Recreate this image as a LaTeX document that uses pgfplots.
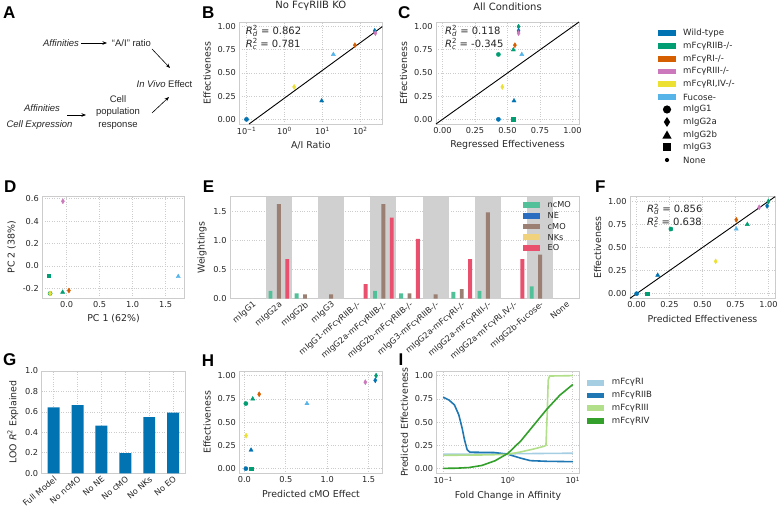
\documentclass[border=0pt]{standalone}
\usepackage{fontspec}
\setmainfont{DejaVu Sans}
\newfontfamily\afont{Liberation Sans}
\usepackage{pgfplots}
\pgfplotsset{compat=1.18}
\usetikzlibrary{arrows.meta}

\definecolor{cWT}{HTML}{0173B2}
\definecolor{cIIB}{HTML}{029E73}
\definecolor{cRI}{HTML}{D55E00}
\definecolor{cRIII}{HTML}{CC78BC}
\definecolor{cRIIV}{HTML}{ECE133}
\definecolor{cFuc}{HTML}{56B4E9}
\definecolor{cncMO}{RGB}{82,192,152}
\definecolor{cNE}{RGB}{42,108,192}
\definecolor{ccMO}{RGB}{155,127,114}
\definecolor{cNK}{RGB}{240,210,125}
\definecolor{cEO}{RGB}{232,80,110}
\definecolor{pI}{HTML}{A6CEE3}
\definecolor{pIIB}{HTML}{1F78B4}
\definecolor{pIII}{HTML}{B2DF8A}
\definecolor{pIV}{HTML}{33A02C}
\definecolor{txt}{HTML}{262626}
\definecolor{frm}{HTML}{CCCCCC}
\definecolor{band}{RGB}{208,208,208}

% narrow diamond like matplotlib's 'd'
\pgfdeclareplotmark{tdiamond}{%
  \pgfpathmoveto{\pgfqpoint{0pt}{\pgfplotmarksize}}%
  \pgfpathlineto{\pgfqpoint{0.62\pgfplotmarksize}{0pt}}%
  \pgfpathlineto{\pgfqpoint{0pt}{-\pgfplotmarksize}}%
  \pgfpathlineto{\pgfqpoint{-0.62\pgfplotmarksize}{0pt}}%
  \pgfpathclose
  \pgfusepathqfillstroke}

\newcommand{\Rsq}[2]{\textit{R}\rlap{\textsuperscript{2}}\textsubscript{\textit{#1}} = #2}
\newcommand{\tfont}{\fontsize{8.2}{9.5}\selectfont}
\newcommand{\lfont}{\fontsize{8.6}{10}\selectfont}

% legend row: colour patch + label (x0 = patch left, y = row centre)
\newcommand{\patchrow}[5]{%
  \fill[#1] (#2pt,-#3pt+2.9pt) rectangle (#2pt+17.5pt,-#3pt-2.9pt);
  \node[anchor=west, inner sep=0pt, text=txt, font=#5] at (#2pt+25pt,-#3pt) {#4};}

\pgfplotsset{
  panel/.style={
    scale only axis, anchor=north west,
    axis line style={draw=frm, line width=0.8pt},
    major tick length=0pt, minor tick length=0pt,
    xmajorgrids, ymajorgrids,
    grid style={draw=frm, dotted, line width=0.7pt},
    tick label style={font=\tfont, text=txt},
    label style={font=\fontsize{9.4}{11}\selectfont, text=txt},
    title style={font=\fontsize{10}{12}\selectfont, text=txt, yshift=1.5pt},
    /pgf/number format/assume math mode=true,
    clip=false,
  },
  eff/.style={ymin=-0.05, ymax=1.05, ytick={0,0.25,0.5,0.75,1},
    yticklabel style={/pgf/number format/.cd, fixed, fixed zerofill, precision=2}},
  conds/.style={scatter, only marks, scatter src=explicit symbolic,
    scatter/classes={
      w1={mark=*, mark size=2.1pt, draw=cWT, fill=cWT},
      w2a={mark=tdiamond, mark size=2.5pt, draw=cWT, fill=cWT},
      w2b={mark=triangle*, mark size=2.4pt, draw=cWT, fill=cWT},
      w3={mark=square*, mark size=1.8pt, draw=cWT, fill=cWT},
      k1={mark=*, mark size=2.1pt, draw=cIIB, fill=cIIB},
      k2a={mark=tdiamond, mark size=2.5pt, draw=cIIB, fill=cIIB},
      k2b={mark=triangle*, mark size=2.4pt, draw=cIIB, fill=cIIB},
      k3={mark=square*, mark size=1.8pt, draw=cIIB, fill=cIIB},
      r1={mark=tdiamond, mark size=2.5pt, draw=cRI, fill=cRI},
      r3={mark=tdiamond, mark size=2.5pt, draw=cRIII, fill=cRIII},
      r4={mark=tdiamond, mark size=2.5pt, draw=cRIIV, fill=cRIIV},
      fu={mark=triangle*, mark size=2.4pt, draw=cFuc, fill=cFuc}}},
}

\begin{document}
\begin{tikzpicture}
\useasboundingbox (0pt,0pt) rectangle (782pt,-518pt);

% ---------------- panel letters
\begin{scope}[every node/.style={anchor=base west, inner sep=0pt, font=\afont\fontsize{17}{17}\bfseries}]
\node at (3pt,-19pt) {A};
\node at (202pt,-19pt) {B};
\node at (398pt,-19pt) {C};
\node at (4pt,-192.7pt) {D};
\node at (202.7pt,-192.7pt) {E};
\node at (595pt,-193pt) {F};
\node at (3pt,-366pt) {G};
\node at (201.7pt,-366.7pt) {H};
\node at (398.5pt,-366pt) {I};
\end{scope}

% ---------------- A: schematic
\begin{scope}[every node/.style={font=\afont\fontsize{9.5}{12.5}\selectfont, inner sep=0pt, text=txt},
  arr/.style={-{Stealth[length=4.5pt,width=3.5pt]}, line width=0.6pt}]
\node at (61pt,-43pt) {\itshape Affinities};
\node at (131.5pt,-43pt) {“A/I” ratio};
\node at (164.5pt,-84pt) {\textit{In Vivo} Effect};
\node at (42pt,-108pt) {\itshape Affinities};
\node at (39.5pt,-125pt) {\itshape Cell Expression};
\node[align=center] at (118pt,-112.5pt) {Cell\\population\\response};
\draw[arr] (81pt,-43pt) -- (107pt,-43pt);
\draw[arr] (152pt,-49pt) -- (170pt,-68pt);
\draw[arr] (67pt,-115pt) -- (86pt,-115pt);
\draw[arr] (152pt,-113pt) -- (169pt,-97pt);
\end{scope}

% ---------------- top right legend (genotype colours, isotype shapes)
\patchrow{cWT}{658}{33}{Wild-type}{\lfont}
\patchrow{cIIB}{658}{46}{mFcγRIIB-/-}{\lfont}
\patchrow{cRI}{658}{59}{mFcγRI-/-}{\lfont}
\patchrow{cRIII}{658}{71.5}{mFcγRIII-/-}{\lfont}
\patchrow{cRIIV}{658}{84}{mFcγRI,IV-/-}{\lfont}
\patchrow{cFuc}{658}{97}{Fucose-}{\lfont}
\begin{scope}[every node/.style={anchor=west, inner sep=0pt, text=txt, font=\lfont}]
\fill[black] (667pt,-109.5pt) circle (4.1pt);
\node at (683pt,-109.5pt) {mIgG1};
\fill[black] (667pt,-117pt) -- (670.2pt,-122pt) -- (667pt,-127pt) -- (663.8pt,-122pt) -- cycle;
\node at (683pt,-122pt) {mIgG2a};
\fill[black] (667pt,-130.5pt) -- (671.6pt,-138.6pt) -- (662.4pt,-138.6pt) -- cycle;
\node at (683pt,-135pt) {mIgG2b};
\fill[black] (663pt,-143.5pt) rectangle (671pt,-151.5pt);
\node at (683pt,-147.5pt) {mIgG3};
\fill[black] (667pt,-160pt) circle (2.1pt);
\node at (683pt,-160pt) {None};
\end{scope}

% ---------------- E legend (no frame, drawn over the bands)
% (placed after the E axis below)

% ---------------- B: No FcgRIIB KO
\begin{axis}[panel, eff, at={(239.3pt,-22pt)}, width=143pt, height=102pt,
  xmode=log, xmin=0.0646, xmax=380,
  xtick={0.1,1,10,100},
  xticklabels={10\textsuperscript{−1},10\textsuperscript{0},10\textsuperscript{1},10\textsuperscript{2}},
  title={No FcγRIIB KO}, xlabel={A/I Ratio}, ylabel={Effectiveness}]
\addplot[black, line width=0.9pt] coordinates {(0.1166,-0.05) (380,1.0)};
\addplot[conds] table[meta=c] {
x y c
0.1 0 w1
1.8 0.35 r4
9.6 0.2 w2b
19.5 0.70 fu
72 0.80 r1
240 0.955 w2a
250 0.93 r3
};
\node[anchor=north west, align=left, inner sep=0pt, font=\fontsize{10}{13}\selectfont, text=txt]
  at (rel axis cs:0.045,0.965) {\Rsq{d}{0.862}\\\Rsq{c}{0.781}};
\end{axis}

% ---------------- C: All conditions
\begin{axis}[panel, eff, at={(436pt,-22pt)}, width=143pt, height=102pt,
  xmin=-0.05, xmax=1.05, xtick={0,0.25,0.5,0.75,1},
  xticklabel style={/pgf/number format/.cd, fixed, fixed zerofill, precision=2},
  title={All Conditions}, xlabel={Regressed Effectiveness}, ylabel={Effectiveness}]
\addplot[black, line width=0.9pt] coordinates {(-0.05,-0.05) (1.05,1.05)};
\addplot[conds] table[meta=c] {
x y c
0.43 0 w1
0.43 0.70 k1
0.46 0.35 r4
0.55 0.20 w2b
0.545 0 k3
0.545 0.75 k2b
0.557 0.80 r1
0.61 0.70 fu
0.585 1.0 k2a
0.585 0.955 w2a
0.585 0.93 r3
};
\node[anchor=north west, align=left, inner sep=0pt, font=\fontsize{10}{13}\selectfont, text=txt]
  at (rel axis cs:0.063,0.965) {\Rsq{d}{0.118}\\\Rsq{c}{-0.345}};
\end{axis}

% ---------------- D: PCA
\begin{axis}[panel, at={(42.3pt,-196.7pt)}, width=142.4pt, height=101.3pt,
  xmin=-0.368, xmax=1.788, ymin=-0.287, ymax=0.619,
  xtick={0,0.5,1,1.5}, ytick={-0.2,0,0.2,0.4,0.6},
  xticklabel style={/pgf/number format/.cd, fixed, fixed zerofill, precision=1},
  yticklabel style={/pgf/number format/.cd, fixed, fixed zerofill, precision=1},
  xlabel={PC 1 (62\%)}, ylabel={PC 2 (38\%)}]
\addplot[conds] table[meta=c] {
x y c
-0.056 0.578 r3
-0.27 -0.089 k3
1.69 -0.095 fu
-0.25 -0.246 k1
-0.25 -0.246 r4
-0.06 -0.235 k2b
0.035 -0.22 r1
};
\end{axis}

% ---------------- E: weightings
\begin{axis}[panel, at={(230pt,-196.7pt)}, width=349.3pt, height=101.8pt,
  xmin=-0.87, xmax=12.5, ymin=0, ymax=1.76, xmajorgrids=false,
  xtick={0,...,12},
  xticklabels={mIgG1,mIgG2a,mIgG2b,mIgG3,mIgG1-mFcγRIIB-/-,mIgG2a-mFcγRIIB-/-,
    mIgG2b-mFcγRIIB-/-,mIgG3-mFcγRIIB-/-,mIgG2a-mFcγRI-/-,mIgG2a-mFcγRIII-/-,
    {mIgG2a-mFcγRI,IV-/-},mIgG2b-Fucose-,None},
  xticklabel style={rotate=40, anchor=north east, inner sep=1.5pt},
  ytick={0,0.5,1,1.5},
  yticklabel style={/pgf/number format/.cd, fixed, fixed zerofill, precision=1},
  ylabel={Weightings}]
\foreach \c in {1,3,5,7,9,11} {
  \edef\tmp{\noexpand\fill[band] (axis cs:\c-0.5,0) rectangle (axis cs:\c+0.5,1.76);}
  \tmp
}
\addplot[ybar, bar width=0.15, bar shift=-0.32, fill=cncMO, draw=none]
  coordinates {(1,0.13) (2,0.087) (5,0.13) (6,0.087) (8,0.115) (9,0.13) (11,0.21)};
\addplot[ybar, bar width=0.15, bar shift=0, fill=ccMO, draw=none]
  coordinates {(1,1.63) (2,0.07) (3,0.07) (5,1.63) (6,0.087) (7,0.07) (8,0.16) (9,1.49) (11,0.76)};
\addplot[ybar, bar width=0.15, bar shift=0.32, fill=cEO, draw=none]
  coordinates {(1,0.68) (4,0.25) (5,1.40) (6,1.03) (8,0.68) (10,0.68)};
\end{axis}
\patchrow{cncMO}{522.5}{205}{ncMO}{\tfont}
\patchrow{cNE}{522.5}{215.7}{NE}{\tfont}
\patchrow{ccMO}{522.5}{226.5}{cMO}{\tfont}
\patchrow{cNK}{522.5}{237.2}{NKs}{\tfont}
\patchrow{cEO}{522.5}{247.8}{EO}{\tfont}

% ---------------- F: predicted vs effectiveness
\begin{axis}[panel, eff, at={(630pt,-196.7pt)}, width=145pt, height=101.6pt,
  xmin=-0.05, xmax=1.05, xtick={0,0.25,0.5,0.75,1},
  xticklabel style={/pgf/number format/.cd, fixed, fixed zerofill, precision=2},
  xlabel={Predicted Effectiveness}, ylabel={Effectiveness}]
\addplot[black, line width=0.9pt] coordinates {(-0.05,-0.05) (1.05,1.05)};
\addplot[conds] table[meta=c] {
x y c
0 0 w1
0.08 0 k3
0.16 0.2 w2b
0.26 0.70 k1
0.60 0.35 r4
0.756 0.70 fu
0.756 0.80 r1
0.84 0.75 k2b
0.93 0.935 r3
0.99 0.95 w2a
1.0 1.0 k2a
};
\node[anchor=north west, align=left, inner sep=0pt, font=\fontsize{10}{13}\selectfont, text=txt]
  at (rel axis cs:0.117,0.93) {\Rsq{d}{0.856}\\\Rsq{c}{0.638}};
\end{axis}

% ---------------- G: LOO
\begin{axis}[panel, at={(41.7pt,-371pt)}, width=143.4pt, height=102.3pt,
  xmin=-0.5, xmax=5.5, ymin=0, ymax=1,
  xtick={0,...,5}, xticklabels={Full Model,No ncMO,No NE,No cMO,No NKs,No EO},
  xticklabel style={rotate=40, anchor=north east, inner sep=1.5pt},
  ytick={0,0.2,0.4,0.6,0.8,1},
  yticklabel style={/pgf/number format/.cd, fixed, fixed zerofill, precision=1},
  ylabel={LOO \textit{R}\textsuperscript{2} Explained}]
\addplot[ybar, bar width=0.5, fill=cWT, draw=none]
  coordinates {(0,0.644) (1,0.666) (2,0.465) (3,0.198) (4,0.548) (5,0.594)};
\end{axis}

% ---------------- H: cMO effect
\begin{axis}[panel, eff, at={(239.3pt,-371pt)}, width=143.4pt, height=102.3pt,
  xmin=-0.062, xmax=1.67, xtick={0,0.5,1,1.5},
  xticklabel style={/pgf/number format/.cd, fixed, fixed zerofill, precision=1},
  xlabel={Predicted cMO Effect}, ylabel={Effectiveness}]
\addplot[conds] table[meta=c] {
x y c
0.017 0.70 k1
0.017 0 w1
0.08 0 k3
0.02 0.355 r4
0.08 0.2 w2b
0.1 0.75 k2b
0.178 0.80 r1
0.755 0.70 fu
1.46 0.93 r3
1.58 0.95 w2a
1.59 1.0 k2a
};
\end{axis}

% ---------------- I: affinity sweep
\begin{axis}[panel, eff, at={(436.7pt,-371pt)}, width=142.6pt, height=102.3pt,
  xmode=log, xmin=0.0794, xmax=12.59, xtick={0.1,1,10},
  xticklabels={10\textsuperscript{−1},10\textsuperscript{0},10\textsuperscript{1}},
  xlabel={Fold Change in Affinity}, ylabel={Predicted Effectiveness}]
\addplot[pI, line width=1.6pt] coordinates {
(0.1,0.155) (0.3,0.157) (1,0.16) (3,0.163) (10,0.166)};
\addplot[pIIB, line width=1.6pt] coordinates {
(0.1,0.768) (0.122,0.739) (0.149,0.686) (0.174,0.579) (0.196,0.436) (0.213,0.311)
(0.234,0.204) (0.257,0.178) (0.4,0.175) (0.6,0.174) (0.97,0.157) (1.55,0.114)
(2.21,0.086) (3.98,0.079) (10,0.075)};
\addplot[pIII, line width=1.6pt] coordinates {
(0.1,0.143) (0.5,0.148) (0.97,0.154) (1.55,0.179) (2.48,0.211) (3.54,0.239)
(3.85,0.25) (4.03,0.6) (4.17,0.95) (4.37,0.996) (10,1.0)};
\addplot[pIV, line width=1.6pt] coordinates {
(0.1,0.003) (0.158,0.005) (0.251,0.012) (0.398,0.035) (0.631,0.085) (1,0.165)
(1.585,0.30) (2.512,0.47) (3.981,0.64) (6.31,0.79) (10,0.905)};
\end{axis}
\patchrow{pI}{586.7}{382.7}{mFcγRI}{\lfont}
\patchrow{pIIB}{586.7}{395.5}{mFcγRIIB}{\lfont}
\patchrow{pIII}{586.7}{408.2}{mFcγRIII}{\lfont}
\patchrow{pIV}{586.7}{420.8}{mFcγRIV}{\lfont}

\end{tikzpicture}
\end{document}
